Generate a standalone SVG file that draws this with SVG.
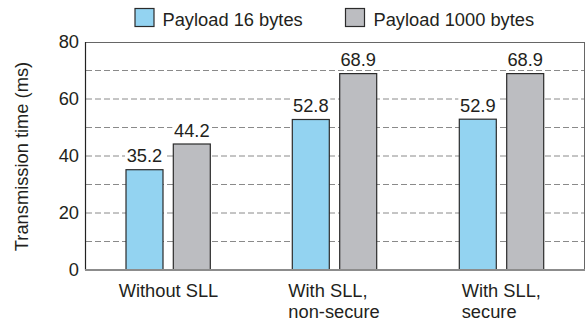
<svg xmlns="http://www.w3.org/2000/svg" width="585" height="324" viewBox="0 0 585 324">
  <style>
    text { font-family: "Liberation Sans", Arial, sans-serif; font-size: 18.3px; fill: #231f20; }
    .grid { stroke: #8a8a8a; stroke-width: 1; stroke-dasharray: 6 3; fill: none; }
    .b16 { fill: #93d3f1; stroke: #2b2b2b; stroke-width: 1.2; }
    .b1000 { fill: #bcbdc1; stroke: #2b2b2b; stroke-width: 1.2; }
    .tick { text-anchor: end; }
    .val { text-anchor: middle; }
    .pad { fill: #ffffff; }
  </style>
  <rect width="585" height="324" fill="#ffffff"/>

  <!-- legend -->
  <g id="legend">
    <rect class="b16" x="135" y="8.5" width="19" height="18"/>
    <text x="162.5" y="26">Payload 16 bytes</text>
    <rect class="b1000" x="345.5" y="8.5" width="19" height="18"/>
    <text x="373.5" y="26">Payload 1000 bytes</text>
  </g>

  <!-- grid lines -->
  <g id="grid">
    <line class="grid" x1="86" y1="70.5" x2="584" y2="70.5"/>
    <line class="grid" x1="86" y1="99" x2="584" y2="99"/>
    <line class="grid" x1="86" y1="127.5" x2="584" y2="127.5"/>
    <line class="grid" x1="86" y1="156" x2="584" y2="156"/>
    <line class="grid" x1="86" y1="184.5" x2="584" y2="184.5"/>
    <line class="grid" x1="86" y1="213" x2="584" y2="213"/>
    <line class="grid" x1="86" y1="241.5" x2="584" y2="241.5"/>
  </g>

  <!-- frame -->
  <g id="frame">
    <line x1="85" y1="42.5" x2="584.5" y2="42.5" stroke="#666" stroke-width="1"/>
    <line x1="584.5" y1="42" x2="584.5" y2="270" stroke="#666" stroke-width="1"/>
    <line x1="85.5" y1="42" x2="85.5" y2="270" stroke="#222" stroke-width="1.2"/>
  </g>

  <!-- y axis -->
  <g id="y-axis">
    <text class="tick" x="79" y="48">80</text>
    <text class="tick" x="79" y="105">60</text>
    <text class="tick" x="79" y="162">40</text>
    <text class="tick" x="79" y="219">20</text>
    <text class="tick" x="79" y="276">0</text>
    <text transform="translate(27.5,156.5) rotate(-90)" text-anchor="middle">Transmission time (ms)</text>
  </g>

  <!-- Without SLL -->
  <g id="group-without">
    <rect class="b16" x="126" y="169.7" width="37" height="100.3"/>
    <rect class="b1000" x="173.3" y="144" width="37" height="126"/>
    <rect class="pad" x="125" y="148" width="39" height="16"/>
    <text class="val" x="144.5" y="162">35.2</text>
    <rect class="pad" x="172.3" y="122.5" width="39" height="16"/>
    <text class="val" x="191.8" y="136.5">44.2</text>
    <text class="val" x="168.5" y="297">Without SLL</text>
  </g>

  <!-- With SLL, non-secure -->
  <g id="group-nonsecure">
    <rect class="b16" x="292.3" y="119.5" width="37" height="150.5"/>
    <rect class="b1000" x="339.7" y="73.6" width="37" height="196.4"/>
    <rect class="pad" x="291.3" y="98" width="39" height="16"/>
    <text class="val" x="310.8" y="112">52.8</text>
    <rect class="pad" x="338.7" y="52" width="39" height="16"/>
    <text class="val" x="358.2" y="66">68.9</text>
    <text x="288.3" y="296.5">With SLL,</text>
    <text x="288.3" y="317.5">non-secure</text>
  </g>

  <!-- With SLL, secure -->
  <g id="group-secure">
    <rect class="b16" x="459.3" y="119.2" width="37" height="150.8"/>
    <rect class="b1000" x="506.7" y="73.6" width="37" height="196.4"/>
    <rect class="pad" x="458.3" y="97.7" width="39" height="16"/>
    <text class="val" x="477.8" y="111.7">52.9</text>
    <rect class="pad" x="505.7" y="52" width="39" height="16"/>
    <text class="val" x="525.2" y="66">68.9</text>
    <text x="461.7" y="296.5">With SLL,</text>
    <text x="461.7" y="317.5">secure</text>
  </g>

  <!-- x axis -->
  <line id="x-axis" x1="85" y1="270" x2="585" y2="270" stroke="#8c8c8c" stroke-width="2"/>
</svg>
